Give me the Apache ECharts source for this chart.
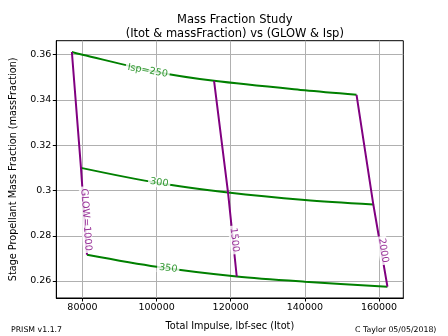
<!DOCTYPE html>
<html>
<head>
<meta charset="utf-8">
<script src="https://cdn.jsdelivr.net/npm/echarts@6/dist/echarts.min.js"></script>
<style>
  html, body { margin: 0; padding: 0; background: #fff; }
  #chart { width: 448px; height: 336px; }
</style>
</head>
<body>
<div id="chart"></div>
<script>
// Carpet plot: stage mass fraction vs total impulse, for GLOW and Isp families

// Constant-Isp curves (total impulse, lbf-sec / mass fraction)
const itotIsp250 = [77140, 80000, 100000, 115500, 140000, 153935];
const mfIsp250   = [0.3612, 0.3600, 0.3524, 0.3485, 0.3443, 0.3423];
const itotIsp300 = [79596, 100000, 119272, 140000, 158464];
const mfIsp300   = [0.3100, 0.3034, 0.2991, 0.2958, 0.2938];
const itotIsp350 = [81213, 100000, 121617, 140000, 162270];
const mfIsp350   = [0.2716, 0.2663, 0.2620, 0.2597, 0.2575];

// Constant-GLOW lines (Isp = 250, 300, 350)
const itotGlow1000 = [77140, 79596, 81213];
const mfGlow1000   = [0.3612, 0.3100, 0.2716];
const itotGlow1500 = [115500, 119272, 121617];
const mfGlow1500   = [0.3485, 0.2991, 0.2620];
const itotGlow2000 = [153935, 158464, 162270];
const mfGlow2000   = [0.3423, 0.2938, 0.2575];

// Inline curve labels
const curveLabelText = ['Isp=250', '300', '350', 'GLOW=1000', '1500', '2000'];
const curveLabelItot = [97574, 100700, 103127, 80943, 120970, 161159];
const curveLabelMf   = [0.3529, 0.3035, 0.2656, 0.2871, 0.2782, 0.2735];
const curveLabelRot  = [-10, -8, -7, -86, -83.5, -81];

// Axis ticks
const xTicks = [80000, 100000, 120000, 140000, 160000];
const yTicks = [0.26, 0.28, 0.3, 0.32, 0.34, 0.36];

const GREEN = '#008000';
const PURPLE = '#800080';
const FONT = 'DejaVu Sans';

function pairs(xs, ys) { return xs.map((x, i) => [x, ys[i]]); }

function lineSeries(name, xs, ys, color, smooth) {
  return {
    name: name,
    type: 'line',
    data: pairs(xs, ys),
    smooth: smooth,
    showSymbol: false,
    symbol: 'none',
    lineStyle: { color: color, width: 2 },
    z: color === PURPLE ? 3 : 2,
    silent: true
  };
}

const labelColors = [GREEN, GREEN, GREEN, PURPLE, PURPLE, PURPLE];
const labelData = curveLabelText.map((t, i) => ({
  value: [curveLabelItot[i], curveLabelMf[i]],
  label: {
    show: true,
    position: 'inside',
    formatter: t,
    rotate: curveLabelRot[i],
    color: labelColors[i],
    fontFamily: FONT,
    fontSize: 9.7,
    backgroundColor: '#ffffff',
    padding: [0, 2]
  }
}));

const chart = echarts.init(document.getElementById('chart'), null, { renderer: 'canvas' });
chart.setOption({
  animation: false,
  backgroundColor: '#ffffff',
  textStyle: { fontFamily: FONT },
  title: {
    text: 'Mass Fraction Study\n(Itot & massFraction) vs (GLOW & Isp)',
    left: 229.8,
    top: 8,
    textAlign: 'center',
    textStyle: {
      fontFamily: FONT,
      fontSize: 11.5,
      fontWeight: 'normal',
      color: '#000',
      lineHeight: 14.3
    }
  },
  grid: {
    left: 56.3, right: 44.7, top: 40.7, bottom: 37.7,
    show: true, borderColor: '#000', borderWidth: 1, backgroundColor: 'transparent'
  },
  xAxis: {
    type: 'value',
    min: 72940,
    max: 166550,
    name: 'Total Impulse, lbf-sec (Itot)',
    nameLocation: 'middle',
    nameGap: 23,
    nameTextStyle: { fontFamily: FONT, fontSize: 9.7, color: '#000' },
    axisLine: { show: true, lineStyle: { color: '#000', width: 1 } },
    axisTick: { show: true, length: 3.5, customValues: xTicks, lineStyle: { color: '#000' } },
    axisLabel: {
      customValues: xTicks,
      fontFamily: FONT, fontSize: 9.5, color: '#000', margin: 5,
      formatter: v => String(v)
    },
    splitLine: { show: true, lineStyle: { color: '#b0b0b0', width: 1 } }
  },
  yAxis: {
    type: 'value',
    min: 0.2525,
    max: 0.3662,
    name: 'Stage Propellant Mass Fraction (massFraction)',
    nameLocation: 'middle',
    nameGap: 38,
    nameTextStyle: { fontFamily: FONT, fontSize: 9.7, color: '#000' },
    axisLine: { show: true, lineStyle: { color: '#000', width: 1 } },
    axisTick: { show: true, length: 3.5, customValues: yTicks, lineStyle: { color: '#000' } },
    axisLabel: {
      customValues: yTicks,
      fontFamily: FONT, fontSize: 9.5, color: '#000', margin: 5,
      formatter: v => String(v)
    },
    splitLine: { show: true, lineStyle: { color: '#b0b0b0', width: 1 } }
  },
  series: [
    lineSeries('Isp=250', itotIsp250, mfIsp250, GREEN, 0.3),
    lineSeries('Isp=300', itotIsp300, mfIsp300, GREEN, 0.3),
    lineSeries('Isp=350', itotIsp350, mfIsp350, GREEN, 0.3),
    lineSeries('GLOW=1000', itotGlow1000, mfGlow1000, PURPLE, false),
    lineSeries('GLOW=1500', itotGlow1500, mfGlow1500, PURPLE, false),
    lineSeries('GLOW=2000', itotGlow2000, mfGlow2000, PURPLE, false),
    {
      name: 'labels',
      type: 'scatter',
      symbolSize: 0,
      data: labelData,
      z: 5,
      silent: true
    }
  ],
  graphic: [
    {
      type: 'text', left: 11, top: 326,
      style: { text: 'PRISM v1.1.7', fontFamily: FONT, fontSize: 7.8, fill: '#000' }
    },
    {
      type: 'text', left: 355, top: 326,
      style: { text: 'C Taylor 05/05/2018)', fontFamily: FONT, fontSize: 7.8, fill: '#000' }
    }
  ]
});
</script>
</body>
</html>
